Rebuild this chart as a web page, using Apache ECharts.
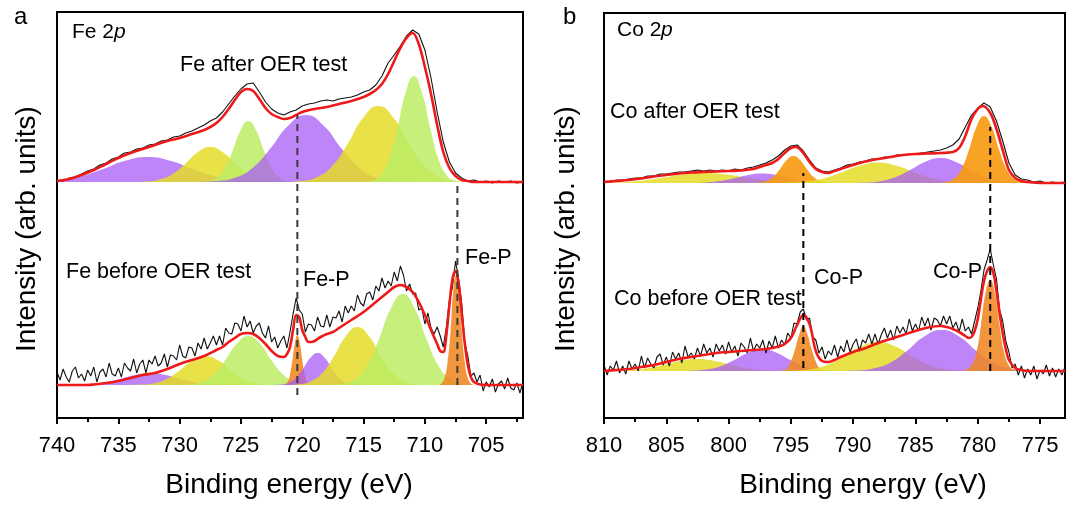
<!DOCTYPE html>
<html><head><meta charset="utf-8">
<script src="https://cdn.jsdelivr.net/npm/echarts@6/dist/echarts.min.js"></script>
<style>html,body{margin:0;padding:0;background:#fff}#c{width:1067px;height:506px}</style>
</head><body><div id="c"></div>
<script>
// ---------- tick labels ----------
const feTicks = [740,735,730,725,720,715,710,705];
const feMinorTicks = [737.5,732.5,727.5,722.5,717.5,712.5,707.5,702.5];
const coTicks = [810,805,800,795,790,785,780,775];
const coMinorTicks = [807.5,802.5,797.5,792.5,787.5,782.5,777.5];

// ---------- Fe 2p, after OER (raw counts every 0.5 eV from 740 eV) ----------
const feAfterRaw = [2,1,4,5,8,11,13,17,19,23,25,29,30,33,34,37,38,41,42,45,46,49,51,54,57,61,64,70,78,86,93,98,99,90,80,73,69,67,70,72,76,78,79,81,82,81,83,84,85,87,90,92,97,106,119,127,136,146,152,148,132,104,70,40,20,9,4,1,2,0,1,-1,1,0,1,-1,0];
const feAfterFit = [[740,1],[739,3],[738,7],[737,12],[736,18],[735,24],[734,29],[733,33],[732,37],[731,41],[730,44],[729,48],[728,52],[727.5,55],[727,59],[726.5,65],[726,73],[725.5,82],[725,90],[724.5,93],[724,91],[723.5,83],[723,74],[722.5,68],[722,65],[721.5,63],[721,64],[720.5,67],[720,70],[719,73],[718,75],[717,78],[716,81],[715,85],[714.5,88],[714,92],[713.5,98],[713,108],[712.5,121],[712,134],[711.5,144],[711,149],[710.5,138],[710,115],[709.5,88],[709,57],[708.5,30],[708,14],[707.5,6],[707,2],[706.5,1],[706,0],[704,0],[702,0]];
const feA_purple1 = [[740,1.7],[738.2,5.3],[736.35,12.5],[734.5,21],[732.6,25],[730.7,21],[728.85,12.5],[726.98,5.3],[725.1,1.6],[723.2,0.3],[721.35,0]];
const feA_yellow1 = [[733.8,0],[732.75,0.5],[731.7,2.2],[730.65,7.4],[729.6,17.5],[728.55,29.4],[727.5,35],[726.45,29.4],[725.4,17.5],[724.35,7.4],[723.3,2.2],[722.25,0.5],[721.2,0]];
const feA_green1 = [[728.3,0],[727.65,0.8],[727.0,3.8],[726.35,12.8],[725.7,30.5],[725.05,51.3],[724.4,61],[723.75,51.3],[723.1,30.5],[722.45,12.8],[721.8,3.8],[721.15,0.8],[720.5,0]];
const feA_purple2 = [[728.4,0],[726.95,0.9],[725.5,4.2],[724.05,14.1],[722.6,33.5],[721.15,56.3],[719.7,67],[718.25,56.3],[716.8,33.5],[715.35,14.1],[713.9,4.2],[712.45,0.9],[711,0]];
const feA_yellow2 = [[721.3,0],[720.05,1],[718.8,4.8],[717.55,16],[716.3,38],[715.05,63.9],[713.8,76],[712.55,63.9],[711.3,38],[710.05,16],[708.8,4.8],[707.55,1],[706.3,0]];
const feA_green2 = [[714.95,0],[714.28,1.4],[713.6,6.6],[712.93,22.3],[712.25,53],[711.58,89.1],[710.9,106],[710.23,89.1],[709.55,53],[708.88,22.3],[708.2,6.6],[707.53,1.4],[706.85,0]];

// ---------- Fe 2p, before OER (raw counts every 0.25 eV from 740 eV) ----------
const feBeforeRaw = [13,5,16,8,3,14,18,7,11,4,15,9,18,3,13,16,8,22,11,9,17,8,22,17,14,26,12,21,25,12,25,21,29,19,22,31,18,30,29,25,40,29,27,38,37,29,42,36,47,36,42,49,40,49,40,57,52,51,62,61,54,69,58,64,52,59,62,52,47,59,43,48,37,44,49,37,53,71,87,75,71,53,61,60,54,68,59,58,70,58,68,67,74,63,79,72,79,74,90,82,79,91,93,85,99,94,107,97,104,99,113,104,119,110,94,101,91,92,75,77,61,72,57,51,58,49,38,58,85,98,124,106,82,42,29,9,12,3,10,-6,3,-2,6,-7,1,4,-4,7,-3,-5,2,-8,3];
const feBeforeFit = [[740,0],[737.5,0],[737,0.5],[736,2],[735,4],[734,7],[733,10],[732,12],[731,16],[730,21],[729,25],[728,29],[727,35],[726.5,38],[726,43],[725.5,47],[725,51],[724.5,52],[724,51],[723.5,47],[723,41],[722.5,34],[722,29],[721.5,28],[721.2,32],[721,38],[720.75,55],[720.5,70],[720.25,68],[720,55],[719.75,48],[719.5,43],[719.25,43],[719,44],[718.5,48],[718,51],[717.5,53],[717,57],[716,65],[715,73],[714,83],[713,93],[712.5,98],[712,100],[711.5,98],[711,93],[710.5,83],[710,70],[709.5,55],[709,41],[708.75,34],[708.5,33],[708.25,50],[708,80],[707.75,106],[707.5,114],[707.25,102],[707,72],[706.75,42],[706.5,20],[706.25,8],[706,3],[705.5,0.5],[705,0],[702,0]];
const feB_purple1 = [[739.9,0],[738.65,0.2],[737.4,0.8],[736.15,2.5],[734.9,6],[733.65,10.1],[732.4,12],[731.15,10.1],[729.9,6],[728.65,2.5],[727.4,0.8],[726.15,0.2],[724.9,0]];
const feB_yellow1 = [[734.2,0],[733.15,0.4],[732.1,1.8],[731.05,6.1],[730,14.5],[728.95,24.4],[727.9,29],[726.85,24.4],[725.8,14.5],[724.75,6.1],[723.7,1.8],[722.65,0.4],[721.6,0]];
const feB_green1 = [[730.1,0],[729.15,0.6],[728.2,3.1],[727.25,10.3],[726.3,24.5],[725.35,41.2],[724.4,49],[723.45,41.2],[722.5,24.5],[721.55,10.3],[720.6,3.1],[719.65,0.6],[718.7,0]];
const feB_orange1 = [[721.6,0],[721.4,0.7],[721.2,3.1],[721,10.5],[720.8,25],[720.6,42],[720.4,50],[720.2,42],[720,25],[719.8,10.5],[719.6,3.1],[719.4,0.7],[719.2,0]];
const feB_purple2 = [[722.35,0],[721.75,0.4],[721.15,2],[720.55,6.7],[719.95,16],[719.35,26.9],[718.75,32],[718.15,26.9],[717.55,16],[716.95,6.7],[716.35,2],[715.75,0.4],[715.15,0]];
const feB_yellow2 = [[721.2,0],[720.25,0.8],[719.3,3.6],[718.35,12.2],[717.4,29],[716.45,48.8],[715.5,58],[714.55,48.8],[713.6,29],[712.65,12.2],[711.7,3.6],[710.75,0.8],[709.8,0]];
const feB_green2 = [[717.65,0],[716.68,1.2],[715.7,5.7],[714.73,19.1],[713.75,45.5],[712.78,76.5],[711.8,91],[710.83,76.5],[709.85,45.5],[708.88,19.1],[707.9,5.7],[706.93,1.2],[705.95,0]];
const feB_orange2 = [[708.9,0],[708.65,1.4],[708.4,6.9],[708.15,23.1],[707.9,55],[707.7,92.5],[707.45,110],[707.2,92.5],[707,55],[706.75,23.1],[706.5,6.9],[706.25,1.4],[706,0]];

// ---------- Co 2p, after OER (raw counts every 0.5 eV from 810 eV) ----------
const coAfterRaw = [2,1,3,3,4,5,5,7,7,9,9,10,11,11,12,13,12,13,12,13,12,14,13,15,16,18,20,23,27,33,37,38,32,23,15,12,11,13,15,18,19,21,22,24,24,26,26,28,28,29,29,30,31,32,33,35,38,44,56,68,75,80,76,62,42,20,8,4,3,1,2,0,1,0,1];
const coAfterFit = [[810,1],[809,2],[808,3],[807,4.5],[806,6.5],[805,8],[804,9.5],[803,10.5],[802,11],[801,11.5],[800,12],[799,12.5],[798,14],[797.5,16],[797,18],[796.5,20],[796,24],[795.5,30],[795,35],[794.6,36],[794,30],[793.5,21],[793,14],[792.5,11],[792,10],[791.5,12],[791,14],[790,18],[789,21.5],[788,24],[787,26],[786,28],[785,29],[784,29.5],[783,30],[782,31],[781.5,35],[781,47],[780.5,64],[780,74],[779.6,77],[779,70],[778.5,54],[778,33],[777.5,13],[777,5],[776.5,2],[776,1],[775,0],[773,0]];
const coA_yellow1 = [[810,0.2],[808.9,0.6],[807.15,2.1],[805.4,5],[803.65,8.4],[801.9,10],[800.15,8.4],[798.4,5],[796.65,2.1],[794.9,0.6],[793.15,0.1],[791.4,0]];
const coA_purple1 = [[804.05,0],[802.9,0.1],[801.8,0.6],[800.7,2],[799.55,4.8],[798.4,8.1],[797.3,9.6],[796.2,8.1],[795.05,4.8],[793.9,2],[792.8,0.6],[791.7,0.1],[790.55,0]];
const coA_orange1 = [[798.1,0],[797.55,0.4],[797,1.7],[796.45,5.7],[795.9,13.5],[795.35,22.7],[794.8,27],[794.25,22.7],[793.7,13.5],[793.15,5.7],[792.6,1.7],[792.05,0.4],[791.5,0]];
const coA_yellow2 = [[797,0],[795.5,0.3],[794,1.3],[792.5,4.3],[791,10.3],[789.5,17.2],[788,20.5],[786.5,17.2],[785,10.3],[783.5,4.3],[782,1.3],[780.5,0.3],[779,0]];
const coA_purple2 = [[790.5,0],[789.25,0.3],[788,1.6],[786.75,5.3],[785.5,12.5],[784.25,21],[783,25],[781.75,21],[780.5,12.5],[779.25,5.3],[778,1.6],[776.75,0.3],[775.5,0]];
const coA_orange2 = [[783.1,0],[782.5,0.9],[781.9,4.2],[781.3,14.1],[780.7,33.5],[780.1,56.3],[779.5,67],[778.9,56.3],[778.3,33.5],[777.7,14.1],[777.1,4.2],[776.5,0.9],[775.9,0]];

// ---------- Co 2p, before OER (raw counts every 0.25 eV from 810 eV) ----------
const coBeforeRaw = [6,-4,5,1,10,-2,5,-3,10,2,7,0,15,3,13,7,3,14,17,6,14,5,19,12,18,8,25,14,18,12,23,15,27,18,23,14,27,20,26,17,29,19,25,15,28,24,18,33,20,27,23,31,18,30,23,35,23,31,26,38,33,48,47,59,62,51,53,34,31,18,24,12,20,16,26,14,25,19,31,19,27,32,20,31,28,37,27,37,27,36,43,33,41,31,45,38,44,37,52,40,47,40,54,45,53,41,53,51,45,55,47,55,43,49,39,52,40,44,37,50,63,80,101,111,122,106,92,61,50,30,19,3,7,-4,5,-7,2,-4,5,-8,1,-3,6,-5,3,-6,2,-4,4];
const coBeforeFit = [[810,0],[809,1],[808,2],[807,4],[806,6],[805,9],[804,12],[803,14],[802,16],[801,18],[800,19],[799,20],[798,21],[797,22],[796.5,23],[796,24.5],[795.5,27],[795,33],[794.5,46],[794,56],[793.5,47],[793,20],[792.5,10],[792,9],[791.5,11],[791,14],[790,19],[789,23],[788,28],[787,32],[786,36],[785,40],[784,43.5],[783,45],[782.5,44],[782,42],[781.5,39],[781,35],[780.75,33],[780.5,34],[780.25,40],[780,52],[779.75,72],[779.5,90],[779.25,100],[779,104],[778.75,98],[778.5,80],[778.25,58],[778,38],[777.75,22],[777.5,11],[777,3],[776.5,1],[776,0],[773,0]];
const coB_yellow1 = [[810,0.1],[809.4,0.2],[808,0.8],[806.6,2.5],[805.25,6],[803.9,10.1],[802.5,12],[801.1,10.1],[799.75,6],[798.4,2.5],[797,0.8],[795.6,0.2],[794.3,0]];
const coB_purple1 = [[804.05,0],[802.9,0.3],[801.8,1.4],[800.7,4.6],[799.55,11],[798.4,18.5],[797.3,22],[796.2,18.5],[795.05,11],[793.9,4.6],[792.8,1.4],[791.7,0.3],[790.55,0]];
const coB_orange1 = [[795.95,0],[795.6,0.6],[795.3,2.8],[795,9.5],[794.65,22.5],[794.3,37.8],[794,45],[793.7,37.8],[793.35,22.5],[793,9.5],[792.7,2.8],[792.4,0.6],[792.05,0]];
const coB_yellow2 = [[796.25,0],[794.9,0.4],[793.5,1.8],[792.1,6.1],[790.75,14.5],[789.4,24.4],[788,29],[786.6,24.4],[785.25,14.5],[783.9,6.1],[782.5,1.8],[781.1,0.4],[779.75,0]];
const coB_purple2 = [[791.15,0],[789.8,0.5],[788.4,2.6],[787,8.6],[785.65,20.5],[784.3,34.5],[782.9,41],[781.5,34.5],[780.15,20.5],[778.8,8.6],[777.4,2.6],[776,0.5],[774.65,0]];
const coB_orange2 = [[781.25,0],[780.9,1.2],[780.5,5.7],[780.1,19.1],[779.75,45.5],[779.4,76.5],[779,91],[778.6,76.5],[778.25,45.5],[777.9,19.1],[777.5,5.7],[777.1,1.2],[776.75,0]];

// reference lines (binding energy)
const feRefLines = [720.4, 707.35];
const coRefLines = [794.0, 779.0];

// ---------- layout / style ----------
const FONT = 'Liberation Sans, Arial, Helvetica, sans-serif';
const BASE = {feAfter:236, feBefore:33, coAfter:235, coBefore:47};
const COL = {
  purple:'rgba(168,92,245,0.75)', yellow:'rgba(228,220,40,0.85)', green:'rgba(188,236,100,0.85)',
  orangeA:'rgba(240,135,35,0.88)', orangeB:'rgba(247,155,20,0.92)'
};

function rawPts(start, step, vals, base){ return vals.map((v,i)=>[+(start - i*step).toFixed(3), v + base]); }
function shift(pts, base){ return pts.map(p=>[p[0], p[1] + base]); }
function comp(xi, yi, pts, base, color){
  return {type:'line', xAxisIndex:xi, yAxisIndex:yi, data:shift(pts, base), smooth:0.5, symbol:'none',
    lineStyle:{width:0}, areaStyle:{color:color, origin:base, opacity:1}, silent:true, z:2};
}
function raw(xi, yi, pts){ return {type:'line', xAxisIndex:xi, yAxisIndex:yi, data:pts, symbol:'none', lineStyle:{color:'#111', width:1.1}, silent:true, z:3}; }
function fit(xi, yi, pts, base){ return {type:'line', xAxisIndex:xi, yAxisIndex:yi, data:shift(pts, base), smooth:0.35, symbol:'none', lineStyle:{color:'#ee1a1a', width:2.6}, silent:true, z:4}; }
function dash(xi, yi, e, y0, y1, color){ return {type:'line', xAxisIndex:xi, yAxisIndex:yi, data:[[e,y0],[e,y1]], symbol:'none', lineStyle:{color:color, width:2, type:[7,5]}, silent:true, z:5}; }

function mainX(gi, min, max, ticks){
  return {gridIndex:gi, type:'value', min:min, max:max, inverse:true,
    axisLine:{show:false}, splitLine:{show:false},
    axisTick:{show:true, inside:false, length:6, lineStyle:{color:'#000', width:2}, customValues:ticks},
    axisLabel:{show:true, customValues:ticks, fontSize:22, color:'#000', fontFamily:FONT, margin:17}};
}
function minorX(gi, min, max, ticks){
  return {gridIndex:gi, type:'value', min:min, max:max, inverse:true, position:'bottom',
    axisLine:{show:false}, splitLine:{show:false},
    axisTick:{show:true, inside:false, length:4, lineStyle:{color:'#000', width:2}, customValues:ticks},
    axisLabel:{show:false}};
}

const series = [
  // Fe after
  comp(0,0,feA_purple1,BASE.feAfter,COL.purple), comp(0,0,feA_yellow1,BASE.feAfter,COL.yellow),
  comp(0,0,feA_green1,BASE.feAfter,COL.green), comp(0,0,feA_purple2,BASE.feAfter,COL.purple),
  comp(0,0,feA_yellow2,BASE.feAfter,COL.yellow), comp(0,0,feA_green2,BASE.feAfter,COL.green),
  raw(0,0,rawPts(740,0.5,feAfterRaw,BASE.feAfter)), fit(0,0,feAfterFit,BASE.feAfter),
  // Fe before
  comp(0,0,feB_purple1,BASE.feBefore,COL.purple), comp(0,0,feB_yellow1,BASE.feBefore,COL.yellow),
  comp(0,0,feB_green1,BASE.feBefore,COL.green), comp(0,0,feB_orange1,BASE.feBefore,COL.orangeA),
  comp(0,0,feB_purple2,BASE.feBefore,COL.purple), comp(0,0,feB_yellow2,BASE.feBefore,COL.yellow),
  comp(0,0,feB_green2,BASE.feBefore,COL.green), comp(0,0,feB_orange2,BASE.feBefore,COL.orangeA),
  raw(0,0,rawPts(740,0.25,feBeforeRaw,BASE.feBefore)), fit(0,0,feBeforeFit,BASE.feBefore),
  dash(0,0,feRefLines[0],23,303,'#3a3a3a'), dash(0,0,feRefLines[1],33,236,'#3a3a3a'),
  // Co after
  comp(2,1,coA_yellow1,BASE.coAfter,COL.yellow), comp(2,1,coA_purple1,BASE.coAfter,COL.purple),
  comp(2,1,coA_orange1,BASE.coAfter,COL.orangeB), comp(2,1,coA_yellow2,BASE.coAfter,COL.yellow),
  comp(2,1,coA_purple2,BASE.coAfter,COL.purple), comp(2,1,coA_orange2,BASE.coAfter,COL.orangeB),
  raw(2,1,rawPts(810,0.5,coAfterRaw,BASE.coAfter)), fit(2,1,coAfterFit,BASE.coAfter),
  // Co before
  comp(2,1,coB_yellow1,BASE.coBefore,COL.yellow), comp(2,1,coB_purple1,BASE.coBefore,COL.purple),
  comp(2,1,coB_orange1,BASE.coBefore,COL.orangeA), comp(2,1,coB_yellow2,BASE.coBefore,COL.yellow),
  comp(2,1,coB_purple2,BASE.coBefore,COL.purple), comp(2,1,coB_orange2,BASE.coBefore,COL.orangeA),
  raw(2,1,rawPts(810,0.25,coBeforeRaw,BASE.coBefore)), fit(2,1,coBeforeFit,BASE.coBefore),
  dash(2,1,coRefLines[0],50,245,'#000'), dash(2,1,coRefLines[1],47,291,'#000')
];

function txt(x, y, text, size, opts){
  opts = opts || {};
  return {type:'text', x:x, y:y, rotation:opts.rot||0, silent:true, z:10,
    style:{text:text, font:(opts.italic?'italic ':'')+size+'px '+FONT, fill:'#000', align:opts.align||'left', verticalAlign:'middle'}};
}

const graphic = [
  txt(14,17,'a',24), txt(563,17,'b',24),
  txt(72,32,'Fe 2',21), txt(114,32,'p',21,{italic:true}),
  txt(617,30,'Co 2',21), txt(661,30,'p',21,{italic:true}),
  txt(180,65,'Fe after OER test',21.5), txt(66,272,'Fe before OER test',21.5),
  txt(303,280,'Fe-P',21.5), txt(465,258,'Fe-P',21.5),
  txt(610,112,'Co after OER test',21.5), txt(614,299,'Co before OER test',21.5),
  txt(814,278,'Co-P',21.5), txt(933,272,'Co-P',21.5),
  txt(27,229,'Intensity (arb. units)',28,{rot:Math.PI/2, align:'center'}),
  txt(566,229,'Intensity (arb. units)',28,{rot:Math.PI/2, align:'center'}),
  txt(289,485,'Binding energy (eV)',28,{align:'center'}),
  txt(863,485,'Binding energy (eV)',28,{align:'center'})
];

const chart = echarts.init(document.getElementById('c'), null, {renderer:'canvas'});
chart.setOption({
  animation:false,
  backgroundColor:'#fff',
  grid:[
    {left:57, top:12, width:466, height:406, show:true, borderColor:'#000', borderWidth:2, backgroundColor:'transparent'},
    {left:604, top:13, width:461, height:405, show:true, borderColor:'#000', borderWidth:2, backgroundColor:'transparent'}
  ],
  xAxis:[ mainX(0,702,740,feTicks), minorX(0,702,740,feMinorTicks), mainX(1,773,810,coTicks), minorX(1,773,810,coMinorTicks) ],
  yAxis:[ {gridIndex:0, type:'value', min:0, max:406, show:false}, {gridIndex:1, type:'value', min:0, max:405, show:false} ],
  series: series,
  graphic: graphic
});
</script></body></html>
